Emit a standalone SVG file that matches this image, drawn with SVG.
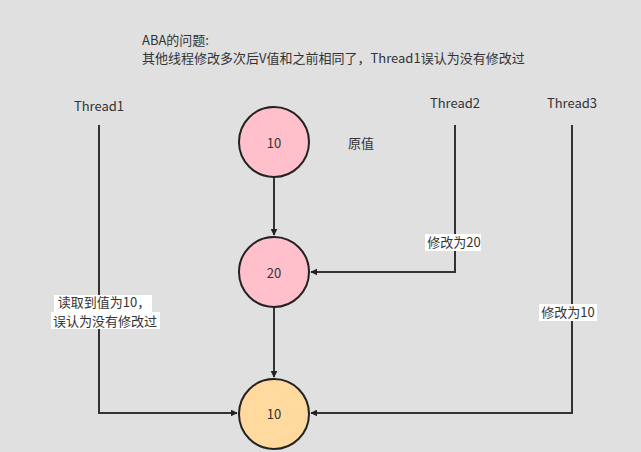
<svg xmlns="http://www.w3.org/2000/svg" width="641" height="452" viewBox="0 0 641 452">
<defs>
<marker id="ah" viewBox="0 0 10 10" refX="9" refY="5" markerWidth="7" markerHeight="7" markerUnits="userSpaceOnUse" orient="auto">
<path d="M0,0 L10,5 L0,10 z" fill="#222"/>
</marker>
<style>
text{font-family:"Microsoft YaHei","Noto Sans CJK SC",sans-serif;font-size:13px;fill:#333}
.t{text-anchor:middle}
.c{stroke:#222;stroke-width:2}
.e{fill:none;stroke:#333;stroke-width:2}
.lb{fill:#ffffff}
</style>
</defs>
<rect width="641" height="452" fill="#e0e0e0"/>
<g id="title">
<text x="142" y="45">ABA的问题:</text>
<text x="142" y="63">其他线程修改多次后V值和之前相同了，Thread1误认为没有修改过</text>
</g>
<g id="thread1"><text class="t" x="99" y="111">Thread1</text></g>
<g id="thread2"><text class="t" x="455" y="108">Thread2</text></g>
<g id="thread3"><text class="t" x="572" y="108">Thread3</text></g>
<g id="orig"><text class="t" x="361" y="148">原值</text></g>
<g id="connectors">
<path class="e" d="M274,177 L274,235" marker-end="url(#ah)"/>
<path class="e" d="M274,307 L274,377" marker-end="url(#ah)"/>
<path class="e" d="M455,125 L455,272 L311,272" marker-end="url(#ah)"/>
<path class="e" d="M572,125 L572,413 L311,413" marker-end="url(#ah)"/>
<path class="e" d="M99,125 L99,413 L237,413" marker-end="url(#ah)"/>
<rect class="lb" x="425" y="234" width="56" height="17"/>
<text class="t" x="454" y="247">修改为20</text>
<rect class="lb" x="539" y="304" width="58" height="17"/>
<text class="t" x="568" y="317">修改为10</text>
<rect class="lb" x="54" y="295" width="98" height="17"/>
<rect class="lb" x="51" y="312" width="109" height="17"/>
<text class="t" x="104" y="307">读取到值为10，</text>
<text class="t" x="105" y="326">误认为没有修改过</text>
</g>
<g id="n1"><circle class="c" cx="274" cy="142" r="35" fill="#ffc0cb"/><text class="t" x="274" y="148">10</text></g>
<g id="n2"><circle class="c" cx="274" cy="272" r="35" fill="#ffc0cb"/><text class="t" x="274" y="278">20</text></g>
<g id="n3"><circle class="c" cx="274" cy="414" r="35" fill="#ffd99e"/><text class="t" x="274" y="419">10</text></g>
</svg>
